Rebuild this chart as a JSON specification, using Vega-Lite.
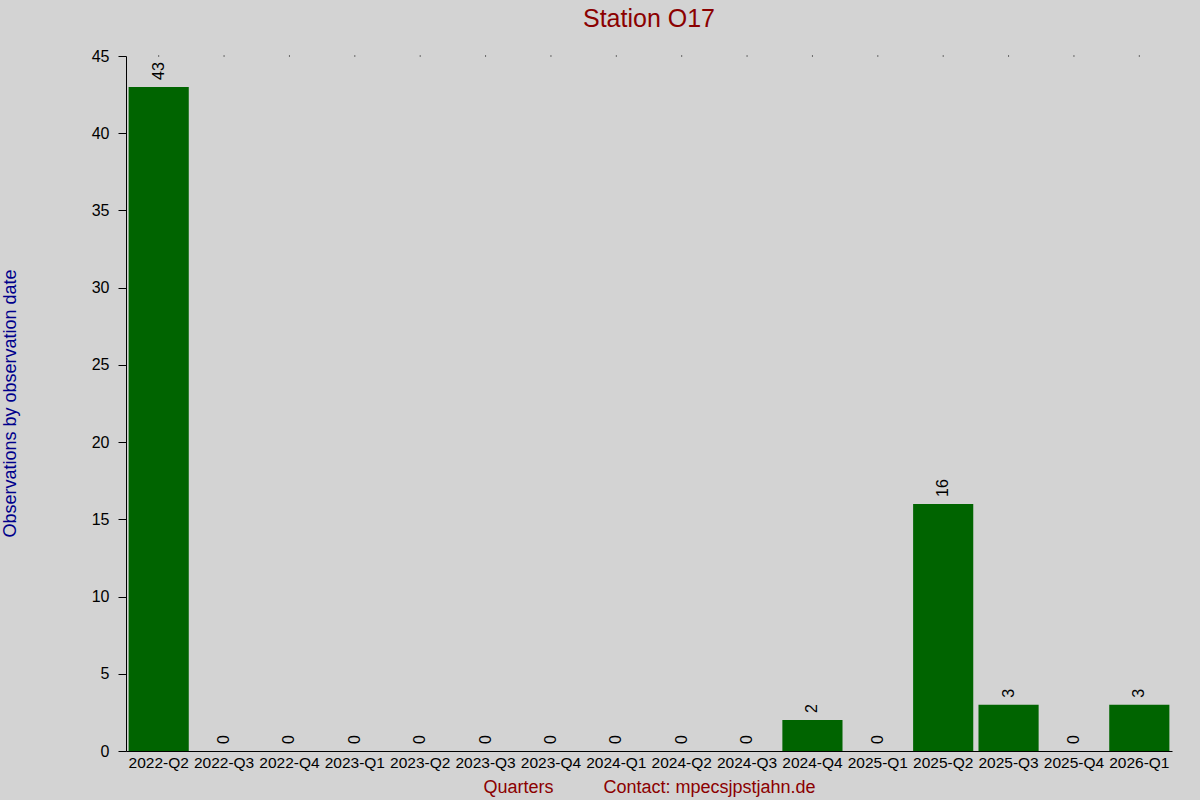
{
  "$schema": "https://vega.github.io/schema/vega-lite/v6.json",
  "width": 1046,
  "height": 695,
  "autosize": {"type": "none"},
  "padding": {"left": 126, "top": 56, "right": 28, "bottom": 49},
  "background": "#d3d3d3",
  "title": {
    "text": "Station O17",
    "color": "#8b0000",
    "fontSize": 25,
    "fontWeight": "normal",
    "font": "Liberation Sans",
    "anchor": "middle",
    "offset": 16
  },
  "data": {
    "values": [
      {"quarter": "2022-Q2", "count": 43},
      {"quarter": "2022-Q3", "count": 0},
      {"quarter": "2022-Q4", "count": 0},
      {"quarter": "2023-Q1", "count": 0},
      {"quarter": "2023-Q2", "count": 0},
      {"quarter": "2023-Q3", "count": 0},
      {"quarter": "2023-Q4", "count": 0},
      {"quarter": "2024-Q1", "count": 0},
      {"quarter": "2024-Q2", "count": 0},
      {"quarter": "2024-Q3", "count": 0},
      {"quarter": "2024-Q4", "count": 2},
      {"quarter": "2025-Q1", "count": 0},
      {"quarter": "2025-Q2", "count": 16},
      {"quarter": "2025-Q3", "count": 3},
      {"quarter": "2025-Q4", "count": 0},
      {"quarter": "2026-Q1", "count": 3}
    ]
  },
  "encoding": {
    "x": {
      "field": "quarter",
      "type": "nominal",
      "sort": null,
      "scale": {"paddingInner": 0.08, "paddingOuter": 0.04},
      "axis": {
        "title": "Quarters\u00a0\u00a0\u00a0\u00a0\u00a0\u00a0\u00a0\u00a0\u00a0\u00a0Contact: mpecsjpstjahn.de",
        "titleColor": "#8b0000",
        "titleFontSize": 18,
        "titleFontWeight": "normal",
        "titleY": 27,
        "labelAngle": 0,
        "labelFontSize": 15.5,
        "labelColor": "black",
        "labelPadding": 4,
        "ticks": false,
        "domainColor": "black"
      }
    }
  },
  "layer": [
    {
      "mark": {"type": "bar", "color": "#006400"},
      "encoding": {
        "y": {
          "field": "count",
          "type": "quantitative",
          "scale": {"domain": [0, 45], "nice": false},
          "axis": {
            "title": "Observations by observation date",
            "titleColor": "#00008b",
            "titleFontSize": 18,
            "titleFontWeight": "normal",
            "titleX": -107,
            "titleY": 347,
            "values": [0, 5, 10, 15, 20, 25, 30, 35, 40, 45],
            "grid": false,
            "tickSize": 8,
            "tickColor": "black",
            "domainColor": "black",
            "labelFontSize": 16,
            "labelColor": "black",
            "labelPadding": 9
          }
        }
      }
    },
    {
      "mark": {
        "type": "text",
        "angle": 270,
        "align": "left",
        "baseline": "middle",
        "dx": 7,
        "fontSize": 16,
        "color": "black"
      },
      "encoding": {
        "y": {"field": "count", "type": "quantitative"},
        "text": {"field": "count", "type": "quantitative"}
      }
    },
    {
      "mark": {"type": "square", "size": 1, "color": "black", "opacity": 1},
      "encoding": {
        "y": {"datum": 45, "type": "quantitative"}
      }
    }
  ],
  "config": {
    "font": "Liberation Sans",
    "view": {"stroke": null},
    "axis": {"labelFont": "Liberation Sans", "titleFont": "Liberation Sans"}
  }
}
